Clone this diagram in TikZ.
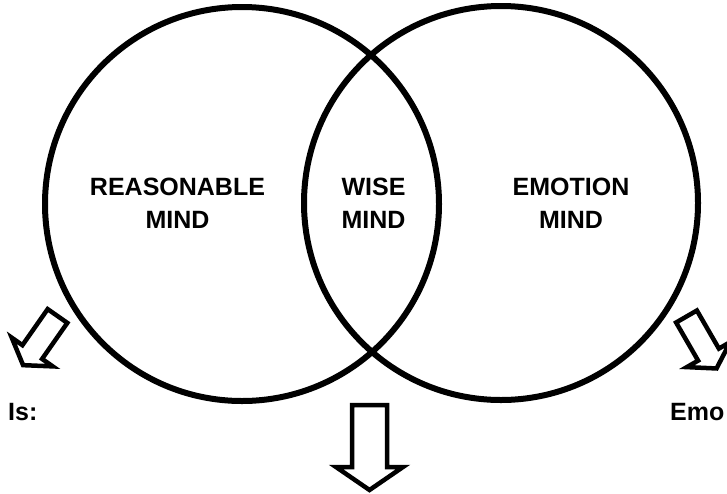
\documentclass[tikz,border=0pt]{standalone}
\usepackage{fontspec}
\setmainfont{Liberation Sans}
\usetikzlibrary{positioning}

\tikzset{
  mindcircle/.style={draw=black, circle, line width=6pt, minimum size=394pt, inner sep=0pt},
  mindtext/.style={font=\bfseries\fontsize{25}{33}\selectfont, align=center, inner sep=0pt},
  sidetext/.style={font=\bfseries\fontsize{25}{33}\selectfont, inner sep=0pt, anchor=base west},
  arrowline/.style={draw=black, line width=4.5pt, fill=white},
  pics/hollow arrow/.style args={#1/#2/#3/#4}{code={
    \draw[arrowline] (0,-#2) -- (#1,-#2) -- (#1,-#3) -- ({#1+#4},0) -- (#1,#3) -- (#1,#2) -- (0,#2) -- cycle;
  }}
}

\begin{document}
\begin{tikzpicture}[x=1pt, y=1pt]
\useasboundingbox (0,0) rectangle (727,-493);
\node [mindcircle] (reason) at (242,-204) {};
\node [mindcircle] (emotion) at (501,-203) {};
\node [mindtext] (reasonlabel) at (177.5,-203.5) {REASONABLE\\MIND};
\node [mindtext] (wiselabel) at (373.5,-203.5) {WISE\\MIND};
\node [mindtext] (emotionlabel) at (571,-203.5) {EMOTION\\MIND};
\pic (reasonarrow) [rotate=235] at (57.5,-316) {hollow arrow=44/12/25/16};
\pic (emotionarrow) [rotate=-60] at (686.5,-316.5) {hollow arrow=44/12/25/16};
\pic (wisearrow) [rotate=-90] at (369.5,-405) {hollow arrow=62/17.5/33.5/23};
\node [sidetext] (reasonis) at (8,-420) {Is:};
\node [sidetext] (emotionis) at (670,-420) {Emo};
\end{tikzpicture}
\end{document}
